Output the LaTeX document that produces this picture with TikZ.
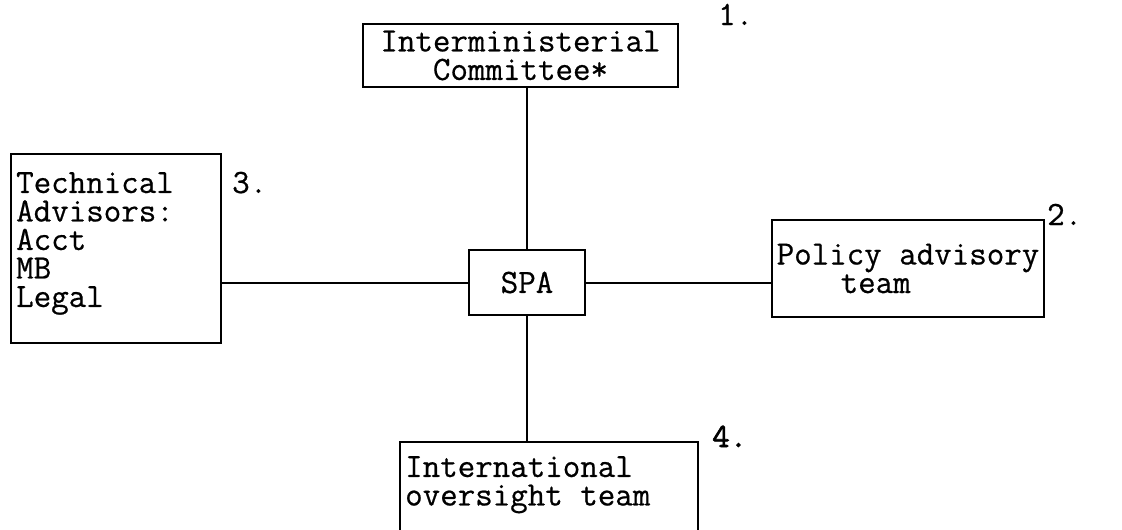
\documentclass[tikz,border=0pt]{standalone}
\usepackage{fontspec}
\newfontfamily\orgfam{Latin Modern Mono}[FakeBold=0.6]
\newfontfamily\orgfambold{Latin Modern Mono}[FakeBold=2]
\newcommand\orgfont{\orgfam\fontsize{34}{28.5}\selectfont}
\begin{document}
\begin{tikzpicture}[x=1pt,y=-1pt,
  box/.style={draw, line width=2pt, inner sep=0pt, font=\orgfont},
  txt/.style={font=\orgfont, inner sep=0pt, align=left, anchor=north west},
  link/.style={line width=2pt},
  tag/.style={font=\orgfont, inner sep=0pt, anchor=base west}]
\useasboundingbox (0,0) rectangle (1122,530);
\clip (0,0) rectangle (1122,530);

% central unit
\node[box, minimum width=116pt, minimum height=65pt] (spa) at (527,282.5) {SPA};

% 1. committee at the top
\node[box, align=center, minimum width=315pt, minimum height=63pt] (ic) at (520.5,55.5)
  {Interministerial\\Committee*};
\node[tag] (n1) at (718,25) {1.};

% 2. policy advisory team on the right
\node[box, align=left, minimum width=272pt, minimum height=97pt] (pol) at (908,268.5)
  {Policy advisory\\\hspace*{64pt}team};
\node[tag] (n2) at (1047,225) {2.};

% 3. technical advisors on the left
\node[box, minimum width=210pt, minimum height=189pt, anchor=north west] (tech) at (10,153) {};
\node[txt] (techtxt) at (16,172) {Technical\\Advisors:\\Acct\\MB\\Legal};
\node[tag] (n3) at (232,193) {3.};

% 4. oversight team at the bottom (runs off the lower edge)
\node[box, minimum width=298pt, minimum height=140pt, anchor=north west] (iot) at (399,441) {};
\node[txt] (iottxt) at (405,456) {International\\oversight team};
\node[tag, font=\orgfambold\fontsize{34}{28}\selectfont] (n4) at (712,447) {4.};

% connectors
\draw[link] (spa.north) -- (spa.north |- ic.south);
\draw[link] (spa.west) -- (spa.west -| tech.east);
\draw[link] (spa.east) -- (spa.east -| pol.west);
\draw[link] (spa.south) -- (spa.south |- iot.north);
\end{tikzpicture}
\end{document}
